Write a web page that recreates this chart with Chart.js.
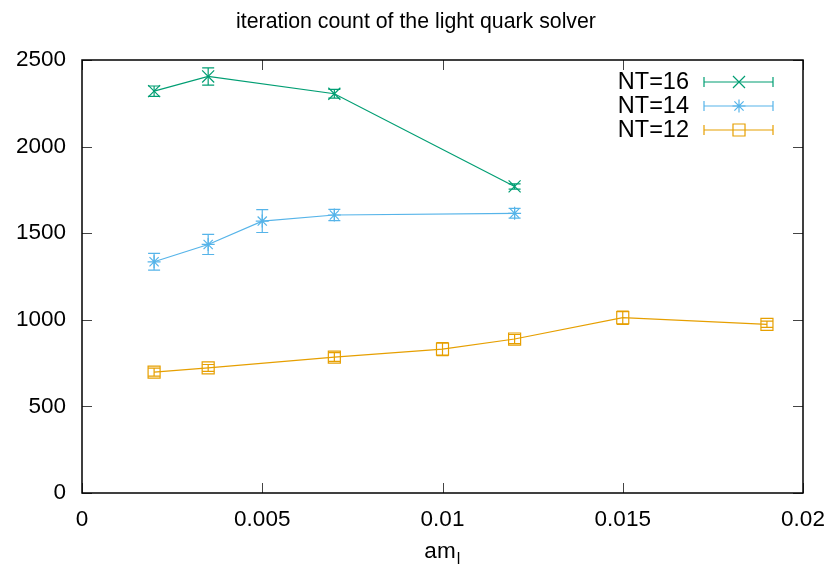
<!DOCTYPE html>
<html>
<head>
<meta charset="utf-8">
<script src="https://cdn.jsdelivr.net/npm/chart.js@4/dist/chart.umd.min.js"></script>
<style>
html,body{margin:0;padding:0;background:#fff;}
#wrap{width:832px;height:566px;}
</style>
</head>
<body>
<div id="wrap"><canvas id="c" width="832" height="566"></canvas></div>
<script>
// ---- data ----
const chartTitle = "iteration count of the light quark solver";
const seriesLabels = ["NT=16", "NT=14", "NT=12"];
const am16 = [0.002, 0.0035, 0.007, 0.012];
const iter16 = [2320, 2405, 2305, 1770];
const err16 = [30, 50, 25, 15];
const am14 = [0.002, 0.0035, 0.005, 0.007, 0.012];
const iter14 = [1335, 1435, 1570, 1605, 1615];
const err14 = [48, 58, 66, 32, 28];
const am12 = [0.002, 0.0035, 0.007, 0.01, 0.012, 0.015, 0.019];
const iter12 = [698, 722, 785, 831, 889, 1012, 974];
const err12 = [23, 20, 25, 38, 26, 38, 18];
const xTickLabels = ["0", "0.005", "0.01", "0.015", "0.02"];
const yTickLabels = ["0", "500", "1000", "1500", "2000", "2500"];

const colors = ["#009e73", "#56b4e9", "#e69f00"];
const FONT = '"Liberation Sans", Arial, Helvetica, sans-serif';
const FS = 22.5;
const LFS = 23.5;
const TFS = 21.3;

function pts(xs, ys) { return xs.map((x, i) => ({x: x, y: ys[i]})); }
const errs = [err16, err14, err12];

function markerOpts(i) {
  if (i === 0) return {pointStyle: 'crossRot', pointRadius: 8.5};
  if (i === 1) return {pointStyle: 'star', pointRadius: 6.5};
  return {pointStyle: 'rect', pointRadius: 8.5};
}

const datasets = [pts(am16, iter16), pts(am14, iter14), pts(am12, iter12)].map((d, i) => Object.assign({
  label: seriesLabels[i],
  data: d,
  showLine: true,
  borderColor: colors[i],
  backgroundColor: 'rgba(0,0,0,0)',
  pointBorderColor: colors[i],
  pointBackgroundColor: 'rgba(0,0,0,0)',
  pointBorderWidth: 1.2,
  borderWidth: 1.2,
  tension: 0,
  pointHoverRadius: 8
}, markerOpts(i)));

const framePlugin = {
  id: 'frame',
  afterDatasetsDraw(chart) {
    const ctx = chart.ctx;
    const xs = chart.scales.x, ys = chart.scales.y;
    const a = chart.chartArea;
    ctx.save();
    // error bars
    chart.data.datasets.forEach((ds, i) => {
      ctx.strokeStyle = colors[i];
      ctx.lineWidth = 1.2;
      ds.data.forEach((p, j) => {
        const e = errs[i][j];
        const px = xs.getPixelForValue(p.x);
        const y1 = ys.getPixelForValue(p.y - e);
        const y2 = ys.getPixelForValue(p.y + e);
        ctx.beginPath();
        ctx.moveTo(px, y1); ctx.lineTo(px, y2);
        ctx.moveTo(px - 6, y1); ctx.lineTo(px + 6, y1);
        ctx.moveTo(px - 6, y2); ctx.lineTo(px + 6, y2);
        ctx.stroke();
      });
    });
    // ticks (inward, mirrored)
    ctx.strokeStyle = '#444';
    ctx.lineWidth = 1;
    xs.ticks.forEach(t => {
      const px = Math.round(xs.getPixelForValue(t.value)) + 0.5;
      ctx.beginPath();
      ctx.moveTo(px, a.bottom); ctx.lineTo(px, a.bottom - 10);
      ctx.moveTo(px, a.top); ctx.lineTo(px, a.top + 10);
      ctx.stroke();
    });
    ys.ticks.forEach(t => {
      const py = Math.round(ys.getPixelForValue(t.value)) + 0.5;
      ctx.beginPath();
      ctx.moveTo(a.left, py); ctx.lineTo(a.left + 10, py);
      ctx.moveTo(a.right, py); ctx.lineTo(a.right - 10, py);
      ctx.stroke();
    });
    // frame
    ctx.strokeStyle = '#000';
    ctx.lineWidth = 1.5;
    ctx.strokeRect(a.left, a.top, a.right - a.left, a.bottom - a.top);

    // legend
    ctx.font = LFS + 'px ' + FONT;
    ctx.textAlign = 'right';
    ctx.textBaseline = 'middle';
    const rowY = [82, 106, 130];
    chart.data.datasets.forEach((ds, i) => {
      const y = rowY[i];
      ctx.fillStyle = '#000';
      ctx.fillText(ds.label, 689, y + 1);
      ctx.strokeStyle = colors[i];
      ctx.lineWidth = 1.2;
      ctx.beginPath();
      ctx.moveTo(704, y); ctx.lineTo(773, y);
      ctx.moveTo(704, y - 5); ctx.lineTo(704, y + 5);
      ctx.moveTo(773, y - 5); ctx.lineTo(773, y + 5);
      ctx.stroke();
      const mo = markerOpts(i);
      ctx.fillStyle = 'rgba(0,0,0,0)';
      ctx.lineWidth = 1.2;
      Chart.helpers.drawPoint(ctx, {pointStyle: mo.pointStyle, radius: mo.pointRadius, rotation: 0, borderWidth: 1.2}, 739, y);
    });

    // title
    ctx.fillStyle = '#000';
    ctx.textAlign = 'center';
    ctx.textBaseline = 'alphabetic';
    ctx.font = TFS + 'px ' + FONT;
    ctx.fillText(chartTitle, 416, 28);

    // x axis title am_l
    ctx.font = FS + 'px ' + FONT;
    ctx.textAlign = 'left';
    const w = ctx.measureText('am').width;
    const cx = (a.left + a.right) / 2;
    const x0 = cx - (w + 5) / 2;
    ctx.fillText('am', x0, 558);
    ctx.font = '16px ' + FONT;
    ctx.fillText('l', x0 + w + 1, 564);
    ctx.restore();
  }
};

new Chart(document.getElementById('c'), {
  type: 'scatter',
  data: {datasets: datasets},
  options: {
    responsive: false,
    animation: false,
    devicePixelRatio: 1,
    layout: {padding: {left: 0, right: 29, top: 60, bottom: 0}},
    plugins: {legend: {display: false}, title: {display: false}, tooltip: {enabled: false}},
    scales: {
      x: {
        type: 'linear', min: 0, max: 0.02,
        afterFit(s) { s.height = 73; s.paddingLeft = 0; s.paddingRight = 0; },
        afterBuildTicks(s) { s.ticks = xTickLabels.map(v => ({value: parseFloat(v)})); },
        ticks: {
          callback: (v, i) => xTickLabels[i],
          font: {family: FONT, size: FS}, color: '#000', padding: 13, maxRotation: 0, autoSkip: false
        },
        grid: {display: false, drawTicks: false},
        border: {display: false}
      },
      y: {
        type: 'linear', min: 0, max: 2500,
        afterFit(s) { s.width = 82; s.paddingTop = 0; s.paddingBottom = 0; },
        afterBuildTicks(s) { s.ticks = yTickLabels.map(v => ({value: parseFloat(v)})); },
        ticks: {
          callback: (v, i) => yTickLabels[i],
          font: {family: FONT, size: FS}, color: '#000', padding: 16, autoSkip: false
        },
        grid: {display: false, drawTicks: false},
        border: {display: false}
      }
    }
  },
  plugins: [framePlugin]
});
</script>
</body>
</html>
